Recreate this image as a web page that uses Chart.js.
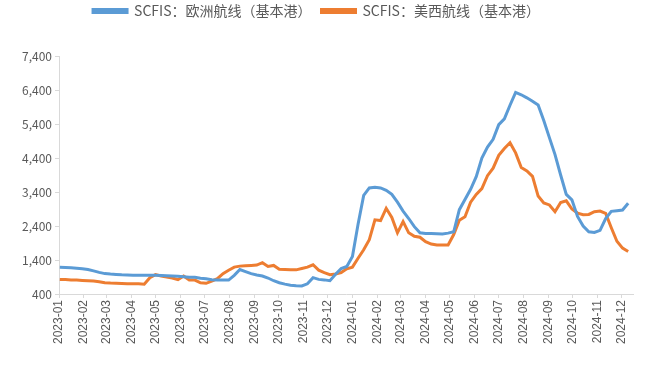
<!DOCTYPE html>
<html><head><meta charset="utf-8">
<script src="https://cdn.jsdelivr.net/npm/chart.js@4.4.1/dist/chart.umd.min.js"></script>
<style>html,body{margin:0;padding:0;background:#fff}#wrap{width:647px;height:381px}</style>
</head><body><div id="wrap"><canvas id="c" width="647" height="381"></canvas></div>
<script>
// Series names (legend)
const seriesNames = ['SCFIS：欧洲航线（基本港）', 'SCFIS：美西航线（基本港）'];
// Weekly observations, first release date; one value per week
const firstWeek = '2023-01-02';
const europe = [1185,1180,1170,1160,1145,1120,1080,1035,1000,985,
  975,965,960,955,955,950,950,950,945,940,
  930,920,910,895,890,865,850,820,810,810,
  810,950,1120,1060,1000,960,930,870,790,730,
  690,660,640,635,700,880,830,815,790,980,
  1150,1210,1500,2450,3300,3520,3540,3520,3450,3330,
  3100,2840,2620,2380,2200,2180,2180,2175,2165,2190,
  2230,2880,3180,3480,3850,4400,4720,4950,5380,5550,
  5950,6330,6260,6170,6070,5960,5500,5000,4500,3900,
  3330,3170,2680,2400,2230,2210,2270,2620,2830,2850,
  2870,3070];
const usWest = [830,825,815,810,800,790,780,760,730,720,
  715,710,705,700,700,690,880,970,930,900,
  870,820,930,810,810,730,715,780,850,1000,
  1100,1190,1220,1230,1240,1250,1320,1210,1240,1130,
  1120,1110,1110,1150,1190,1260,1100,1030,970,990,
  1030,1140,1190,1450,1700,2000,2580,2560,2920,2650,
  2200,2530,2200,2100,2070,1940,1870,1840,1840,1840,
  2150,2570,2670,3100,3330,3500,3880,4100,4480,4680,
  4850,4550,4120,4020,3860,3280,3080,3020,2820,3090,
  3140,2900,2780,2730,2740,2820,2840,2770,2350,1950,
  1750,1650];
// Axis tick labels
const monthLabels = ['2023-01','2023-02','2023-03','2023-04','2023-05','2023-06','2023-07','2023-08','2023-09','2023-10','2023-11','2023-12',
  '2024-01','2024-02','2024-03','2024-04','2024-05','2024-06','2024-07','2024-08','2024-09','2024-10','2024-11','2024-12'];
const yTicks = [400,1400,2400,3400,4400,5400,6400,7400];

const DAY = 86400000;
const origin = Date.UTC(2023,0,1);
function dayIndex(s){ const p = s.split('-').map(Number); return (Date.UTC(p[0], p[1]-1, p[2]||1) - origin)/DAY; }
const monthDays = monthLabels.map(m => dayIndex(m));
const week0 = dayIndex(firstWeek);
const toPoints = arr => arr.map((v,i) => ({x: week0 + 7*i, y: v}));

const legendSpace = {
  id: 'legendSpace',
  beforeInit(chart){
    const lg = chart.legend;
    if (!lg) return;
    const f = lg.fit;
    lg.fit = function(){ f.call(this); this.height = 62; };
  }
};

new Chart(document.getElementById('c'), {
  type: 'line',
  data: {
    datasets: [
      {label: seriesNames[0], data: toPoints(europe), borderColor: '#5B9BD5', backgroundColor: '#5B9BD5', borderWidth: 3, pointRadius: 0, tension: 0},
      {label: seriesNames[1], data: toPoints(usWest), borderColor: '#ED7D31', backgroundColor: '#ED7D31', borderWidth: 3, pointRadius: 0, tension: 0}
    ]
  },
  options: {
    responsive: false,
    devicePixelRatio: 1,
    animation: false,
    layout: {padding: {left: 0, right: 14, top: -6, bottom: 0}},
    plugins: {
      legend: {
        position: 'top',
        labels: {boxWidth: 34, boxHeight: 3, padding: 10, color: '#595959', font: {family: '"Noto Sans CJK SC", sans-serif', size: 14}}
      },
      tooltip: {enabled: false}
    },
    scales: {
      x: {
        type: 'linear', min: 0, max: 714,
        afterBuildTicks: s => { s.ticks = monthDays.map(v => ({value: v})); },
        afterFit: s => { s.height = 87; },
        ticks: {
          autoSkip: false, minRotation: 90, maxRotation: 90, padding: 2,
          color: '#595959', font: {family: '"Liberation Sans", Arial, sans-serif', size: 12},
          callback: v => { const i = monthDays.indexOf(v); return i >= 0 ? monthLabels[i] : ''; }
        },
        grid: {drawOnChartArea: false, drawTicks: true, tickLength: 4, color: '#d9d9d9'},
        border: {display: true, color: '#d9d9d9'}
      },
      y: {
        min: 400, max: 7400,
        afterBuildTicks: s => { s.ticks = yTicks.map(v => ({value: v})); },
        afterFit: s => { s.width = 59; },
        ticks: {
          padding: 3, color: '#595959', font: {family: '"Noto Sans CJK SC", sans-serif', size: 12},
          callback: v => v.toLocaleString('en-US')
        },
        grid: {drawOnChartArea: false, drawTicks: true, tickLength: 4, color: '#d9d9d9'},
        border: {display: true, color: '#d9d9d9'}
      }
    }
  },
  plugins: [legendSpace]
});
</script></body></html>
